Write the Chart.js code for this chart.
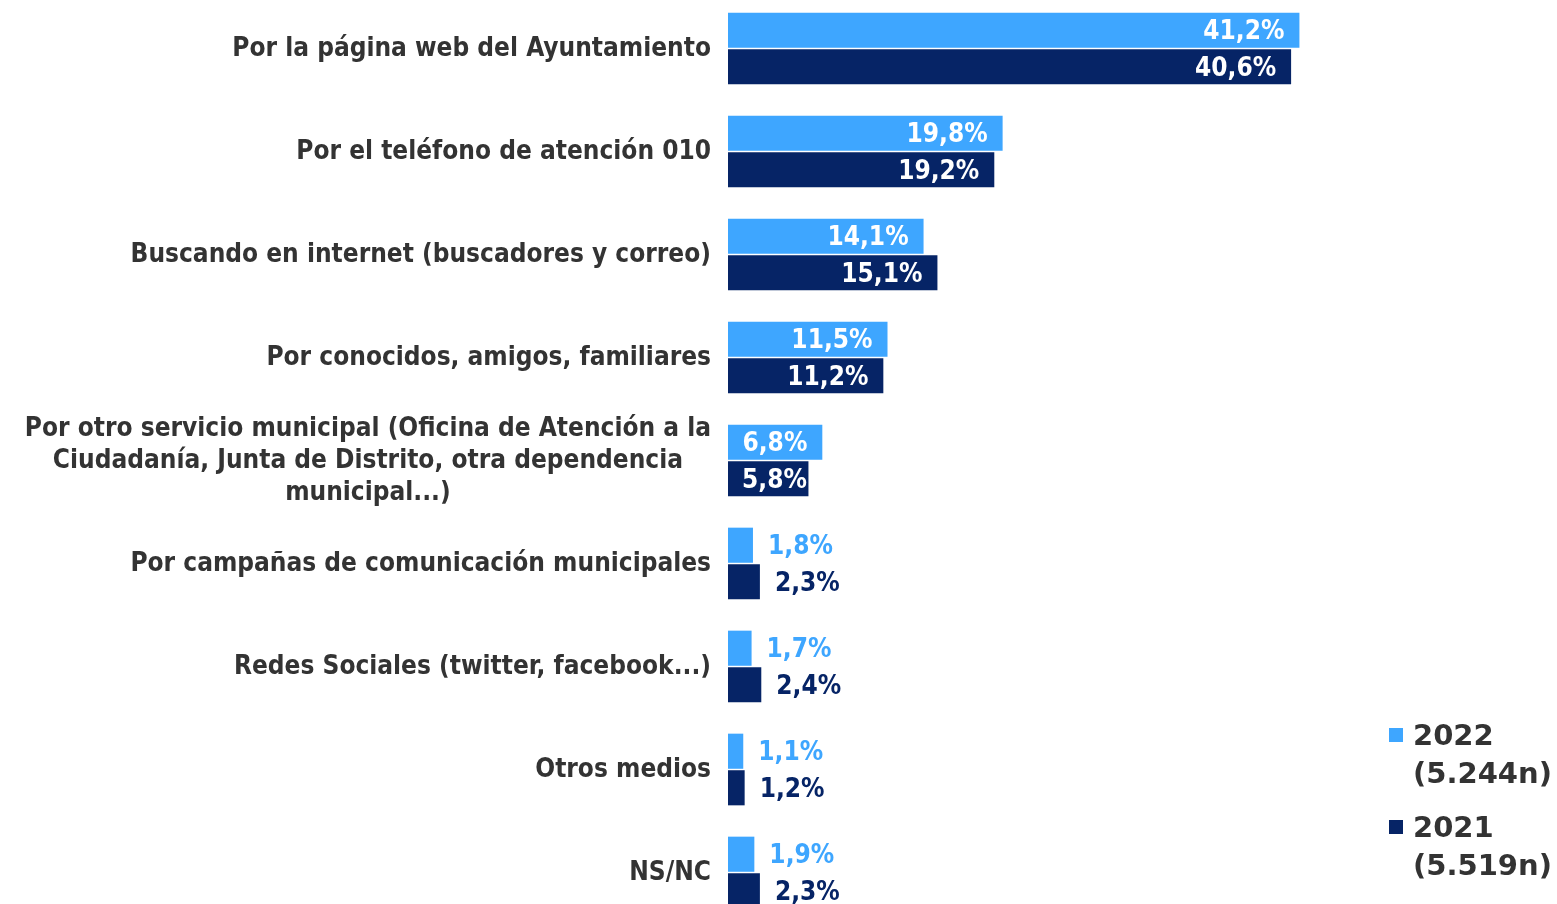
<!DOCTYPE html>
<html>
<head>
<meta charset="utf-8">
<script src="https://cdn.jsdelivr.net/npm/chart.js@4"></script>
<style>
  body { margin: 0; background: #fff; overflow: hidden; width: 1557px; height: 904px; position: relative; }
  #wrap { position: absolute; left: 0; top: -3px; width: 1557px; height: 927px; }
  .legend { position: absolute; left: 1389px; font-family: "DejaVu Sans", Verdana, sans-serif; font-weight: bold; font-size: 29px; line-height: 38px; color: #333; }
  .legend .box { position: absolute; left: 0; top: 12px; width: 14px; height: 14px; }
  .legend .txt { margin-left: 24px; }
</style>
</head>
<body>
<div id="wrap"><canvas id="chart"></canvas></div>
<div class="legend" style="top:716px"><span class="box" style="background:#3ea6ff"></span><div class="txt">2022<br>(5.244n)</div></div>
<div class="legend" style="top:808px"><span class="box" style="background:#062466"></span><div class="txt">2021<br>(5.519n)</div></div>
<script>
const categories = [
  ["Por la página web del Ayuntamiento"],
  ["Por el teléfono de atención 010"],
  ["Buscando en internet (buscadores y correo)"],
  ["Por conocidos, amigos, familiares"],
  ["Por otro servicio municipal (Oficina de Atención a la", "Ciudadanía, Junta de Distrito, otra dependencia", "municipal...)"],
  ["Por campañas de comunicación municipales"],
  ["Redes Sociales (twitter, facebook...)"],
  ["Otros medios"],
  ["NS/NC"]
];
const values2022 = [41.2, 19.8, 14.1, 11.5, 6.8, 1.8, 1.7, 1.1, 1.9];
const values2021 = [40.6, 19.2, 15.1, 11.2, 5.8, 2.3, 2.4, 1.2, 2.3];
const seriesNames = ["2022 (5.244n)", "2021 (5.519n)"];

const LIGHT = "#3ea6ff";
const NAVY = "#062466";
const FONT = "bold 26px 'DejaVu Sans Condensed', 'DejaVu Sans', Verdana, sans-serif";

function fmt(v) {
  return v.toFixed(1).replace(".", ",") + "%";
}

const labelPlugin = {
  id: "labels",
  afterDraw(chart) {
    const ctx = chart.ctx;
    const yScale = chart.scales.y;
    const xScale = chart.scales.x;
    ctx.save();
    ctx.font = FONT;
    ctx.fillStyle = "#333333";
    ctx.textBaseline = "middle";

    // category labels: block right-aligned, lines centered within it
    categories.forEach((lines, i) => {
      const cy = yScale.getPixelForValue(i) + 1;
      const w = Math.max(...lines.map(l => ctx.measureText(l).width));
      const cx = 711 - w / 2;
      ctx.textAlign = "center";
      const lh = 32;
      lines.forEach((l, j) => {
        ctx.fillText(l, cx, cy + (j - (lines.length - 1) / 2) * lh);
      });
    });

    // value labels
    const zero = xScale.getPixelForValue(0);
    chart.data.datasets.forEach((ds, di) => {
      const meta = chart.getDatasetMeta(di);
      meta.data.forEach((bar, i) => {
        const v = ds.data[i];
        const txt = fmt(v);
        const tw = ctx.measureText(txt).width;
        ctx.textAlign = "left";
        if (v >= 5) {
          ctx.fillStyle = "#ffffff";
          let left = bar.x - 15 - tw;
          if (left < zero + 14) left = zero + 14;
          ctx.fillText(txt, left, bar.y + 2);
        } else {
          ctx.fillStyle = ds.backgroundColor;
          ctx.fillText(txt, bar.x + 15, bar.y + 2);
        }
      });
    });
    ctx.restore();
  }
};

new Chart(document.getElementById("chart"), {
  type: "bar",
  data: {
    labels: categories,
    datasets: [
      { label: seriesNames[0], data: values2022, backgroundColor: LIGHT },
      { label: seriesNames[1], data: values2021, backgroundColor: NAVY }
    ]
  },
  options: {
    indexAxis: "y",
    responsive: true,
    maintainAspectRatio: false,
    animation: false,
    categoryPercentage: 0.71,
    barPercentage: 0.96,
    layout: { padding: { left: 728, right: 191, top: 0, bottom: 0 } },
    scales: {
      x: { display: false, min: 0, max: 46 },
      y: { display: false }
    },
    plugins: {
      legend: { display: false },
      tooltip: { enabled: false }
    }
  },
  plugins: [labelPlugin]
});
</script>
</body>
</html>
